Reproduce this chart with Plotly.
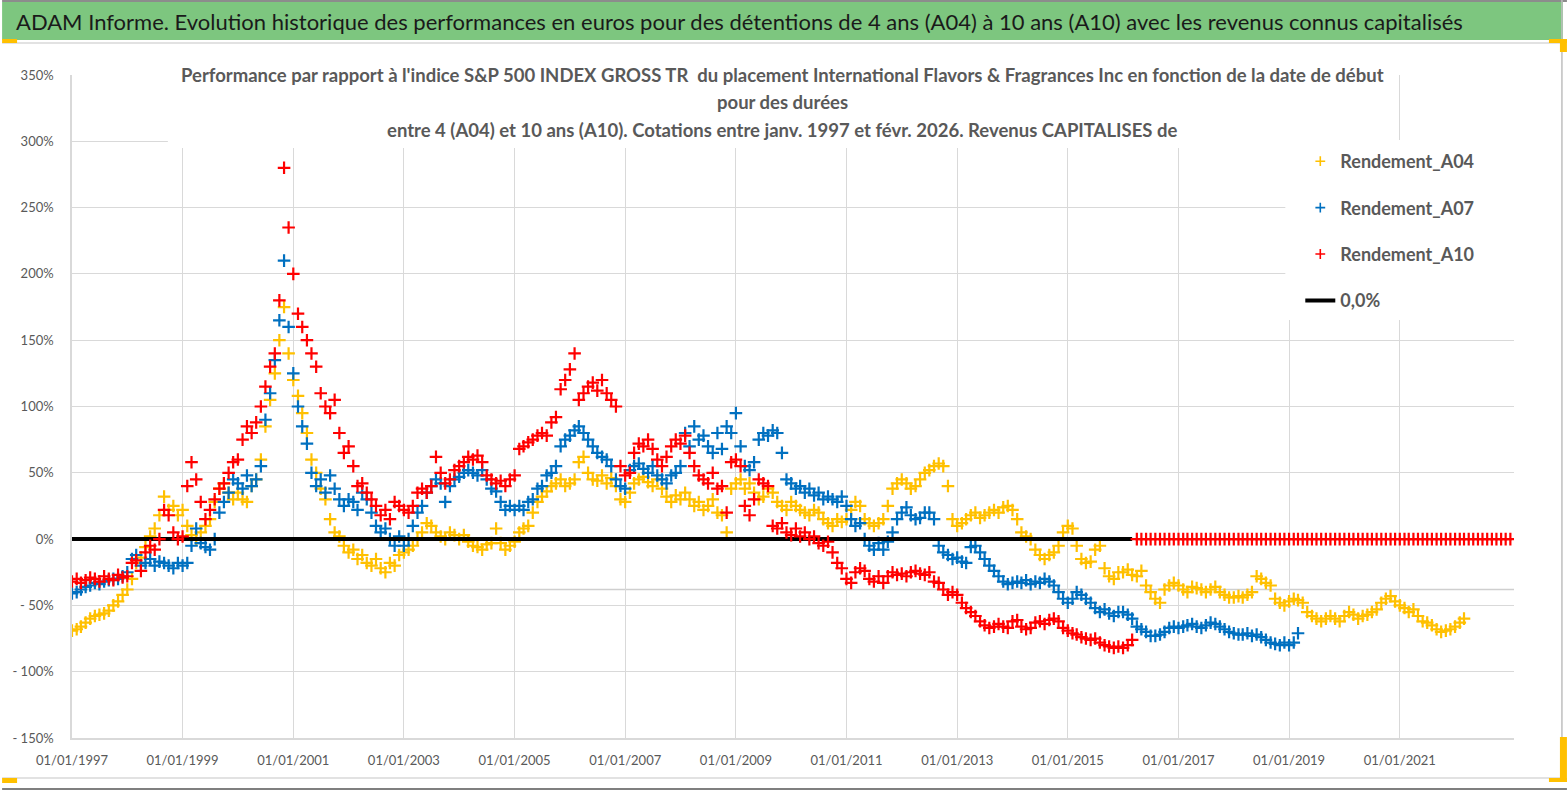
import plotly.graph_objects as go
import pandas as pd

# ---------------- data (monthly readings, % vs S&P 500 GROSS TR) ----------------
a04_start = "1997-01-01"
a04 = [
    -69, -68, -66, -63, -60, -58, -57, -56, -54, -50, -47, -42,   # 1997
    -38, -30, -18, -14, -6, 2, 8, 18, 32, 22, 25, 18,             # 1998
    22, 10, 3, 0, 5, 10, 15, 28, 38, 42, 35, 30,                  # 1999
    35, 30, 28, 40, 45, 60, 85, 105, 125, 150, 175, 140,          # 2000
    120, 108, 95, 80, 60, 50, 38, 30, 15, 5, 2, -5,               # 2001
    -10, -8, -15, -12, -18, -20, -15, -22, -25, -18, -20, -12,    # 2002
    -10, -8, -5, 0, 5, 12, 10, 5, 2, 0, 5, 3,                     # 2003
    0, 3, -2, -5, -6, -8, -4, -3, 8, -3, -8, -5,                  # 2004
    -2, 5, 8, 10, 20, 28, 32, 36, 40, 42, 45, 40,                 # 2005
    42, 45, 58, 62, 50, 45, 44, 48, 42, 46, 40, 30,               # 2006
    28, 35, 42, 45, 47, 43, 40, 45, 38, 32, 28, 33,               # 2007
    30, 35, 30, 25, 28, 22, 25, 30, 20, 18, 5, 38,                # 2008
    42, 45, 38, 42, 35, 30, 32, 38, 35, 28, 25, 22,               # 2009
    28, 25, 22, 20, 18, 22, 20, 15, 12, 10, 15, 13,               # 2010
    15, 22, 28, 25, 15, 12, 10, 12, 15, 25, 38, 42,               # 2011
    45, 42, 38, 40, 45, 50, 52, 55, 57, 55, 40, 15,               # 2012
    10, 12, 15, 18, 20, 16, 18, 20, 22, 20, 24, 25,               # 2013
    22, 15, 5, 2, 0, -8, -12, -15, -12, -10, -5, 5,               # 2014
    10, 8, -5, -15, -18, -17, -8, -5, -22, -28, -30, -25,         # 2015
    -25, -23, -27, -28, -24, -35, -40, -45, -48, -38, -35, -33,   # 2016
    -35, -38, -40, -36, -37, -38, -40, -38, -36, -40, -42, -44,   # 2017
    -44, -43, -44, -42, -40, -28, -30, -33, -35, -45, -48, -50,   # 2018
    -47, -45, -46, -48, -55, -58, -60, -62, -60, -58, -60, -62,   # 2019
    -58, -55, -57, -60, -58, -57, -55, -53, -48, -45, -43, -47,   # 2020
    -50, -52, -55, -53, -58, -62, -63, -65, -68, -70, -69, -68,   # 2021
    -66, -63, -60,                                                # 2022
]

a07_start = "1997-01-01"
a07 = [
    -41, -40, -38, -36, -35, -33, -34, -32, -31, -30, -30, -28,   # 1997
    -25, -15, -12, -20, -18, -15, -20, -17, -18, -20, -22, -18,   # 1998
    -20, -18, -5, 8, -3, -6, -8, 0, 20, 28, 35, 45,               # 1999
    42, 38, 48, 40, 45, 55, 90, 110, 135, 165, 210, 160,          # 2000
    125, 100, 85, 72, 50, 40, 45, 35, 48, 38, 30, 25,             # 2001
    30, 28, 22, 35, 30, 20, 10, 5, 8, 0, -5, 2,                   # 2002
    -5, 0, 10, 20, 25, 35, 40, 45, 42, 28, 40, 45,                # 2003
    47, 50, 52, 50, 48, 52, 45, 38, 36, 28, 22, 25,               # 2004
    22, 25, 22, 28, 30, 38, 40, 48, 50, 55, 70, 75,               # 2005
    78, 82, 85, 80, 75, 70, 65, 62, 60, 55, 45, 40,               # 2006
    38, 52, 55, 57, 53, 50, 55, 48, 45, 42, 48, 50,               # 2007
    55, 80, 70, 85, 75, 78, 70, 65, 80, 68, 85, 80,               # 2008
    95, 70, 55, 52, 58, 75, 80, 78, 82, 80, 65, 45,               # 2009
    42, 38, 40, 35, 38, 33, 35, 30, 32, 30, 28, 32,               # 2010
    25, 15, 10, 12, 0, -5, -8, -3, -8, -2, 5, 15,                 # 2011
    20, 24, 18, 15, 16, 20, 20, 15, -5, -10, -12, -15,            # 2012
    -14, -17, -18, -6, -5, -10, -15, -20, -24, -28, -32, -34,     # 2013
    -33, -32, -33, -31, -34, -32, -33, -30, -32, -35, -40, -45,   # 2014
    -48, -45, -40, -42, -45, -48, -52, -55, -53, -56, -58, -55,   # 2015
    -55, -57, -60, -66, -68, -70, -73, -73, -72, -70, -67, -66,   # 2016
    -67, -66, -65, -64, -66, -67, -65, -63, -64, -66, -68, -70,   # 2017
    -71, -72, -72, -71, -73, -72, -74, -76, -78, -79, -80, -78,   # 2018
    -80, -78, -71,                                                # 2019
]

a10_start = "1997-01-01"
a10 = [
    -32, -30, -33, -31, -29, -30, -32, -28, -30, -31, -27, -29,   # 1997
    -28, -18, -16, -24, -10, -5, -8, 0, 22, 18, 5, 0,             # 1998
    2, 40, 58, 45, 28, 15, 22, 30, 38, 42, 50, 58,                # 1999
    60, 75, 85, 80, 88, 100, 115, 130, 140, 180, 280, 235,        # 2000
    200, 170, 160, 150, 140, 130, 110, 100, 95, 105, 80, 65,      # 2001
    70, 55, 40, 42, 35, 30, 25, 18, 22, 15, 28, 25,               # 2002
    22, 20, 25, 35, 38, 35, 40, 62, 50, 42, 45, 52,               # 2003
    55, 58, 62, 60, 63, 58, 48, 45, 42, 44, 40, 45,               # 2004
    48, 68, 70, 73, 75, 78, 80, 78, 88, 92, 113, 120,             # 2005
    128, 140, 105, 110, 115, 118, 112, 120, 110, 105, 100, 55,    # 2006
    48, 50, 65, 72, 70, 75, 68, 60, 55, 62, 70, 75,               # 2007
    72, 78, 65, 55, 48, 45, 42, 50, 38, 40, 20, 58,               # 2008
    60, 55, 25, 18, 30, 45, 42, 40, 10, 8, 12, 5,                 # 2009
    3, 8, 2, 5, 0, 2, -3, -5, -2, -10, -18, -22,                  # 2010
    -30, -33, -25, -22, -24, -30, -32, -28, -33, -28, -25, -27,   # 2011
    -26, -28, -25, -24, -26, -27, -25, -32, -33, -38, -42, -40,   # 2012
    -42, -48, -52, -55, -58, -62, -65, -67, -66, -64, -66, -67,   # 2013
    -62, -61, -66, -68, -67, -63, -62, -64, -61, -60, -62, -67,   # 2014
    -69, -71, -72, -74, -75, -76, -75, -78, -80, -81, -82, -81,   # 2015
    -82, -80, -76, 0, 0, 0, 0, 0, 0, 0, 0, 0,                     # 2016
    0, 0, 0, 0, 0, 0, 0, 0, 0, 0, 0, 0,                           # 2017
    0, 0, 0, 0, 0, 0, 0, 0, 0, 0, 0, 0,                           # 2018
    0, 0, 0, 0, 0, 0, 0, 0, 0, 0, 0, 0,                           # 2019
    0, 0, 0, 0, 0, 0, 0, 0, 0, 0, 0, 0,                           # 2020
    0, 0, 0, 0, 0, 0, 0, 0, 0, 0, 0, 0,                           # 2021
    0, 0, 0, 0, 0, 0, 0, 0, 0, 0, 0, 0,                           # 2022
    0,                                                            # 2023
]

zero_dates = ["1997-01-01", "2016-03-01"]
zero_vals = [0, 0]

series_names = ["Rendement_A04", "Rendement_A07", "Rendement_A10", "0,0%"]
series_colors = ["#FFC000", "#0070C0", "#FF0000", "#000000"]

y_tick_vals = [-150, -100, -50, 0, 50, 100, 150, 200, 250, 300, 350]
y_tick_text = ["- 150%", "- 100%", "- 50%", "0%", "50%", "100%", "150%", "200%", "250%", "300%", "350%"]
x_tick_vals = ["1997-01-01", "1999-01-01", "2001-01-01", "2003-01-01", "2005-01-01", "2007-01-01",
               "2009-01-01", "2011-01-01", "2013-01-01", "2015-01-01", "2017-01-01", "2019-01-01",
               "2021-01-01"]
x_tick_text = ["01/01/1997", "01/01/1999", "01/01/2001", "01/01/2003", "01/01/2005", "01/01/2007",
               "01/01/2009", "01/01/2011", "01/01/2013", "01/01/2015", "01/01/2017", "01/01/2019",
               "01/01/2021"]
x_range = ["1997-01-01", "2023-01-25"]
y_range = [-150, 350]

main_title = ("ADAM Informe. Evolution historique des performances en euros pour des détentions "
              "de 4 ans (A04) à 10 ans (A10) avec les revenus connus capitalisés")
sub_lines = [
    "Performance par rapport à l'indice S&P 500 INDEX GROSS TR  du placement International Flavors & Fragrances Inc en fonction de la date de début",
    "pour des durées",
    "entre 4 (A04) et 10 ans (A10). Cotations entre janv. 1997 et févr. 2026. Revenus CAPITALISES de",
]

# ---------------- layout geometry ----------------
W, H = 1567, 790
ML, MT = 70, 75
MR = W - 1514
MB = H - 738
PW, PH = W - ML - MR, H - MT - MB
FONT = "Lato"
GREY = "#595959"


def px(x):
    """screen x pixel -> paper coordinate"""
    return (x - ML) / PW


def py(y):
    """screen y pixel -> paper coordinate"""
    return (H - MB - y) / PH


fig = go.Figure()

series = [(a04_start, a04), (a07_start, a07), (a10_start, a10)]
for i, (start, vals) in enumerate(series):
    if i == 2:
        fig.add_trace(go.Scatter(
            x=zero_dates, y=zero_vals, mode="lines", name=series_names[3],
            line=dict(color=series_colors[3], width=4), legendgroup="zero", legendrank=4,
            hoverinfo="skip"))
    dates = pd.date_range(start, periods=len(vals), freq="MS")
    fig.add_trace(go.Scatter(
        x=dates, y=vals, mode="markers", name=series_names[i], showlegend=False,
        marker=dict(symbol="cross-thin", size=9, color=series_colors[i],
                    line=dict(width=2.2, color=series_colors[i]))))
    # small legend-only symbol (like the reference legend)
    fig.add_trace(go.Scatter(
        x=[None], y=[None], mode="markers", name=series_names[i],
        legendgroup=series_names[i], legendrank=i + 1,
        marker=dict(symbol="cross-thin", size=7, color=series_colors[i],
                    line=dict(width=1.6, color=series_colors[i]))))

shapes = [
    # title banner
    dict(type="rect", xref="paper", yref="paper", x0=px(0), x1=px(1563), y0=py(40), y1=py(2),
         fillcolor="#7DC67F", line=dict(width=0), layer="below"),
    dict(type="line", xref="paper", yref="paper", x0=px(0), x1=px(1567), y0=py(1), y1=py(1),
         line=dict(color="#8c8c8c", width=2)),
    dict(type="line", xref="paper", yref="paper", x0=px(0), x1=px(1562), y0=py(43), y1=py(43),
         line=dict(color="#d9d9d9", width=1.5)),
    dict(type="line", xref="paper", yref="paper", x0=px(1562), x1=px(1562), y0=py(0), y1=py(778),
         line=dict(color="#bfbfbf", width=1.5)),
    dict(type="line", xref="paper", yref="paper", x0=px(0), x1=px(1562), y0=py(778), y1=py(778),
         line=dict(color="#d9d9d9", width=1.5)),
    dict(type="line", xref="paper", yref="paper", x0=px(0), x1=px(1567), y0=py(789), y1=py(789),
         line=dict(color="#7f7f7f", width=2)),
    # orange selection handles
    dict(type="rect", xref="paper", yref="paper", x0=px(0), x1=px(15), y0=py(43), y1=py(39),
         fillcolor="#FFC000", line=dict(width=0)),
    dict(type="rect", xref="paper", yref="paper", x0=px(0), x1=px(15), y0=py(783), y1=py(778),
         fillcolor="#FFC000", line=dict(width=0)),
    dict(type="rect", xref="paper", yref="paper", x0=px(1560), x1=px(1567), y0=py(782), y1=py(737),
         fillcolor="#FFC000", line=dict(width=0)),
    dict(type="rect", xref="paper", yref="paper", x0=px(1549), x1=px(1567), y0=py(782), y1=py(778),
         fillcolor="#FFC000", line=dict(width=0)),
    dict(type="rect", xref="paper", yref="paper", x0=px(1560), x1=px(1567), y0=py(52), y1=py(39),
         fillcolor="#FFC000", line=dict(width=0)),
    dict(type="rect", xref="paper", yref="paper", x0=px(1549), x1=px(1567), y0=py(43), y1=py(39),
         fillcolor="#FFC000", line=dict(width=0)),
    # extra light horizontal rule
    dict(type="line", xref="paper", yref="y", x0=0, x1=1, y0=-38, y1=-38,
         line=dict(color="#cfcfcf", width=1.5), layer="below"),
    # chart-title box and legend box (white)
    dict(type="rect", xref="paper", yref="paper", x0=px(166), x1=px(1396), y0=py(148), y1=py(60),
         fillcolor="white", line=dict(width=0), layer="above"),
    dict(type="rect", xref="paper", yref="paper", x0=px(1285), x1=px(1514), y0=py(320), y1=py(140),
         fillcolor="white", line=dict(width=0), layer="above"),
]

annotations = [
    dict(text=main_title, xref="paper", yref="paper", x=px(12), y=py(21), xanchor="left",
         yanchor="middle", showarrow=False, font=dict(family=FONT, size=22, color="#1a1a1a")),
]
for line, ycen in zip(sub_lines, [75, 102, 130]):
    annotations.append(dict(text=line, xref="paper", yref="paper", x=px(781), y=py(ycen),
                            xanchor="center", yanchor="middle", showarrow=False,
                            font=dict(family=FONT, size=18.5, color=GREY, weight="bold")))

fig.update_layout(
    width=W, height=H,
    margin=dict(l=ML, r=MR, t=MT, b=MB, pad=0),
    paper_bgcolor="white", plot_bgcolor="white",
    font=dict(family=FONT, color=GREY),
    showlegend=True,
    legend=dict(x=px(1300), y=py(143), xanchor="left", yanchor="top",
                bgcolor="rgba(0,0,0,0)", tracegroupgap=20,
                font=dict(family=FONT, size=18, color=GREY, weight="bold"),
                itemwidth=30),
    shapes=shapes,
    annotations=annotations,
    xaxis=dict(type="date", range=x_range, tickmode="array", tickvals=x_tick_vals,
               ticktext=x_tick_text, showgrid=True, gridcolor="#d9d9d9", gridwidth=1,
               showline=True, linecolor="#d9d9d9", linewidth=1.5, zeroline=False,
               ticks="", ticklabelstandoff=10,
               tickfont=dict(family=FONT, size=13, color=GREY)),
    yaxis=dict(range=y_range, tickmode="array", tickvals=y_tick_vals, ticktext=y_tick_text,
               showgrid=True, gridcolor="#d9d9d9", gridwidth=1, showline=True,
               linecolor="#d9d9d9", linewidth=1.5, zeroline=False, ticks="",
               ticklabelstandoff=14,
               tickfont=dict(family=FONT, size=13, color=GREY)),
)

fig.write_html(
    "out.html",
    config={"displayModeBar": False},
    post_script="document.body.style.margin='0';document.body.style.overflow='hidden';",
)
